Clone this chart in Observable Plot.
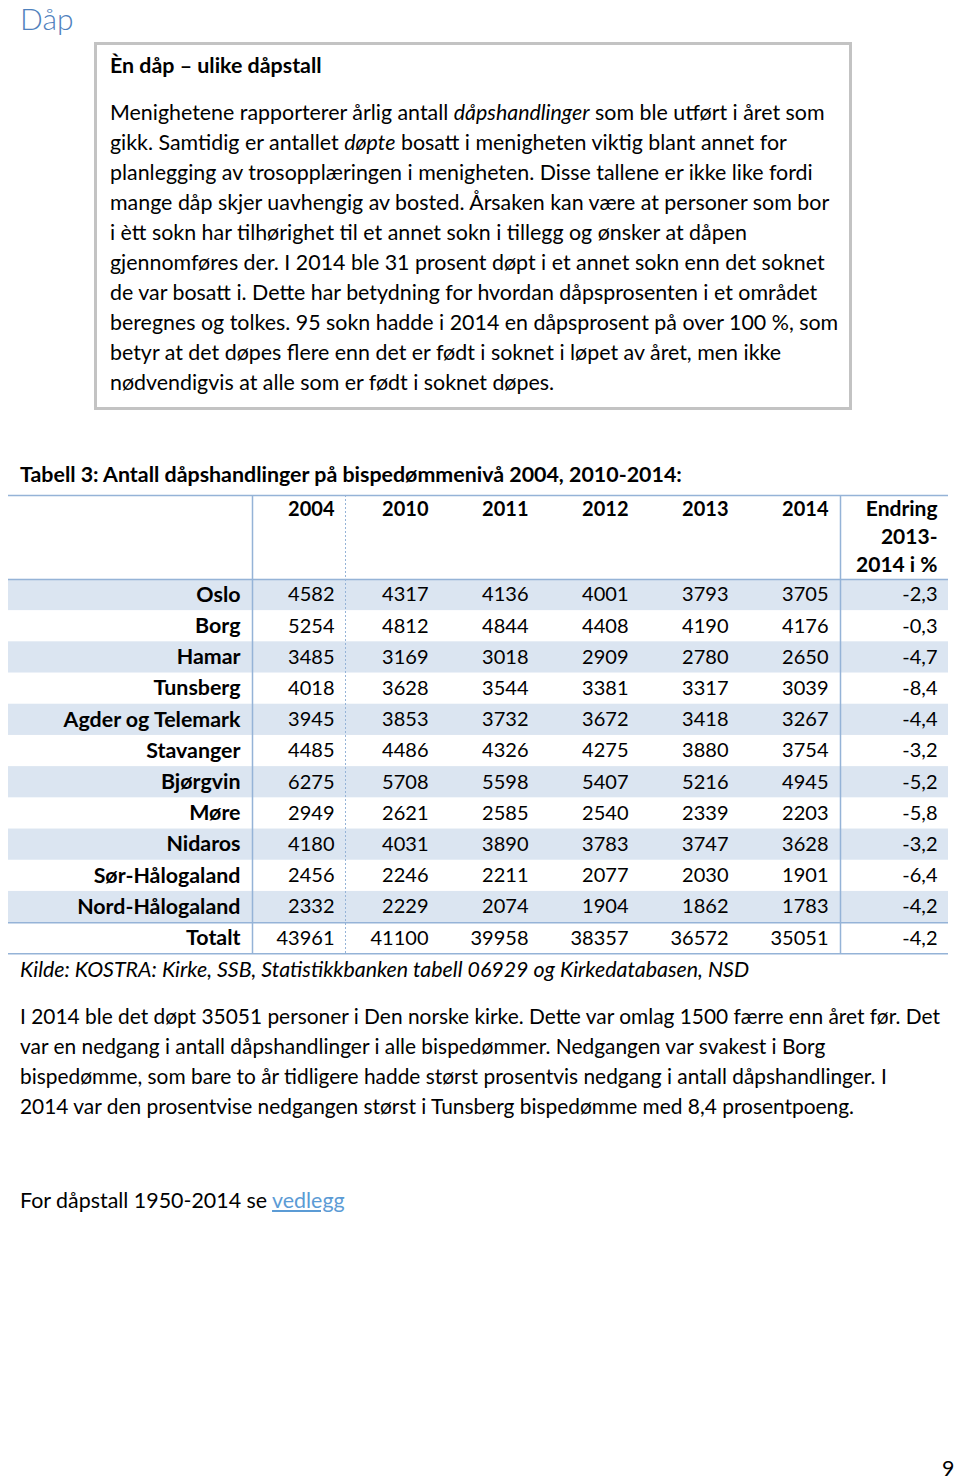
<!DOCTYPE html>
<html>
<head>
<meta charset="utf-8">
<script src="https://cdn.jsdelivr.net/npm/d3@7"></script>
<script src="https://cdn.jsdelivr.net/npm/@observablehq/plot@0.6"></script>
<style>
  html, body { margin: 0; padding: 0; background: #fff; }
  #page { position: relative; width: 960px; height: 1482px; font-family: Lato, "Open Sans", sans-serif; color: #000; overflow: hidden; }
  .abs { position: absolute; white-space: nowrap; }
  .body { font-size: 21.4px; line-height: 30px; }
  h1 { margin: 0; font-weight: 300; font-size: 30px; color: #4f81bd; line-height: 36px; }
  #box { position: absolute; left: 94px; top: 42px; width: 752px; height: 362px; border: 3px solid #c3c3c3; }
  a { color: #5b9bd5; text-decoration: underline; }
</style>
</head>
<body>
<div id="page">
  <h1 class="abs" style="left:20px; top:0px;">Dåp</h1>
  <div id="box"></div>
  <div class="abs body" style="left:110px; top:50px; font-weight:700;">Èn dåp – ulike dåpstall</div>
  <div class="abs body" style="left:110px; top:97px;">
    Menighetene rapporterer årlig antall <i>dåpshandlinger</i> som ble utført i året som<br>
    gikk. Samtidig er antallet <i>døpte</i> bosatt i menigheten viktig blant annet for<br>
    planlegging av trosopplæringen i menigheten. Disse tallene er ikke like fordi<br>
    mange dåp skjer uavhengig av bosted. Årsaken kan være at personer som bor<br>
    i ètt sokn har tilhørighet til et annet sokn i tillegg og ønsker at dåpen<br>
    gjennomføres der. I 2014 ble 31 prosent døpt i et annet sokn enn det soknet<br>
    de var bosatt i. Dette har betydning for hvordan dåpsprosenten i et området<br>
    beregnes og tolkes. 95 sokn hadde i 2014 en dåpsprosent på over 100 %, som<br>
    betyr at det døpes flere enn det er født i soknet i løpet av året, men ikke<br>
    nødvendigvis at alle som er født i soknet døpes.
  </div>
  <div class="abs body" style="left:20px; top:459px; font-weight:700;">Tabell 3: Antall dåpshandlinger på bispedømmenivå 2004, 2010-2014:</div>
  <div id="table" class="abs" style="left:0px; top:490px;"></div>
  <div class="abs body" style="left:20px; top:954px; font-style:italic;">Kilde: KOSTRA: Kirke, SSB, Statistikkbanken tabell 06929 og Kirkedatabasen, NSD</div>
  <div class="abs body" style="left:20px; top:1001px; font-size:20.9px;">
    I 2014 ble det døpt 35051 personer i Den norske kirke. Dette var omlag 1500 færre enn året før. Det<br>
    var en nedgang i antall dåpshandlinger i alle bispedømmer. Nedgangen var svakest i Borg<br>
    bispedømme, som bare to år tidligere hadde størst prosentvis nedgang i antall dåpshandlinger. I<br>
    2014 var den prosentvise nedgangen størst i Tunsberg bispedømme med 8,4 prosentpoeng.
  </div>
  <div class="abs body" style="left:20px; top:1185px;">For dåpstall 1950-2014 se <a>vedlegg</a></div>
  <div class="abs body" style="left:942px; top:1456px; line-height:24px;">9</div>
</div>
<script>
// ---- Data ----
const regions = ["Oslo","Borg","Hamar","Tunsberg","Agder og Telemark","Stavanger","Bjørgvin","Møre","Nidaros","Sør-Hålogaland","Nord-Hålogaland","Totalt"];
const years = ["2004","2010","2011","2012","2013","2014"];
const v2004 = [4582,5254,3485,4018,3945,4485,6275,2949,4180,2456,2332,43961];
const v2010 = [4317,4812,3169,3628,3853,4486,5708,2621,4031,2246,2229,41100];
const v2011 = [4136,4844,3018,3544,3732,4326,5598,2585,3890,2211,2074,39958];
const v2012 = [4001,4408,2909,3381,3672,4275,5407,2540,3783,2077,1904,38357];
const v2013 = [3793,4190,2780,3317,3418,3880,5216,2339,3747,2030,1862,36572];
const v2014 = [3705,4176,2650,3039,3267,3754,4945,2203,3628,1901,1783,35051];
const change = [-2.3,-0.3,-4.7,-8.4,-4.4,-3.2,-5.2,-5.8,-3.2,-6.4,-4.2,-4.2];
const changeHeader = ["Endring","2013-","2014 i %"];

// ---- Layout (table geometry) ----
const layout = {
  tableLeft: 8, tableRight: 948,
  labelRight: 240,
  colRight: [334, 428, 528, 628, 728, 828],
  changeRight: 937,
  solidEdges: [252, 840],
  dashedEdges: [345],
  headerUnits: 2.69,
  headerLineStep: 0.9,
  rowPx: 31.2
};
const series = [v2004, v2010, v2011, v2012, v2013, v2014];
const H = layout.headerUnits;
const nRows = regions.length;
const fmtChange = d => d.toFixed(1).replace(".", ",");

const rows = regions.map((r, i) => ({region: r, i, y: H + i + 0.5}));
const cells = [];
series.forEach((s, j) => s.forEach((v, i) => cells.push({x: layout.colRight[j], y: H + i + 0.5, text: String(v)})));
change.forEach((v, i) => cells.push({x: layout.changeRight, y: H + i + 0.5, text: fmtChange(v)}));
const yearHeaders = years.map((yr, j) => ({x: layout.colRight[j], y: 0.45, text: yr}));
const changeHeaders = changeHeader.map((t, k) => ({x: layout.changeRight, y: 0.45 + k * layout.headerLineStep, text: t}));
const bands = rows.filter(d => d.i % 2 === 0 && d.i < nRows - 1);
const hLines = [0, H, H + nRows - 1, H + nRows];

const totalUnits = H + nRows + 0.01;
const font = "Lato, 'Open Sans', sans-serif";

const chart = Plot.plot({
  width: 960,
  height: 470,
  margin: 0,
  x: {domain: [0, 960], range: [0, 960], axis: null},
  y: {domain: [0, totalUnits], range: [5, 5 + totalUnits * layout.rowPx], axis: null},
  style: {background: "transparent", fontFamily: font, overflow: "visible"},
  marks: [
    Plot.rect(bands, {x1: layout.tableLeft, x2: layout.tableRight, y1: d => d.y - 0.5, y2: d => d.y + 0.5, fill: "#dbe5f1"}),
    Plot.ruleY(hLines, {y: d => d, x1: layout.tableLeft, x2: layout.tableRight, stroke: "#95b3d7", strokeWidth: 1.5}),
    Plot.ruleX(layout.solidEdges, {x: d => d, y1: 0, y2: H + nRows, stroke: "#95b3d7", strokeWidth: 1.5}),
    Plot.ruleX(layout.dashedEdges, {x: d => d, y1: 0, y2: H + nRows, stroke: "#95b3d7", strokeWidth: 1, strokeDasharray: "2,2"}),
    Plot.text(rows, {x: layout.labelRight, y: "y", text: "region", textAnchor: "end", fontWeight: "bold", fontSize: 21.4, fill: "#000"}),
    Plot.text(yearHeaders, {x: "x", y: "y", text: "text", textAnchor: "end", fontWeight: "bold", fontSize: 20, fill: "#000"}),
    Plot.text(changeHeaders, {x: "x", y: "y", text: "text", textAnchor: "end", fontWeight: "bold", fontSize: 21, fill: "#000"}),
    Plot.text(cells, {x: "x", y: "y", text: "text", textAnchor: "end", fontSize: 20, fill: "#000"})
  ]
});
document.getElementById("table").appendChild(chart);
</script>
</body>
</html>
